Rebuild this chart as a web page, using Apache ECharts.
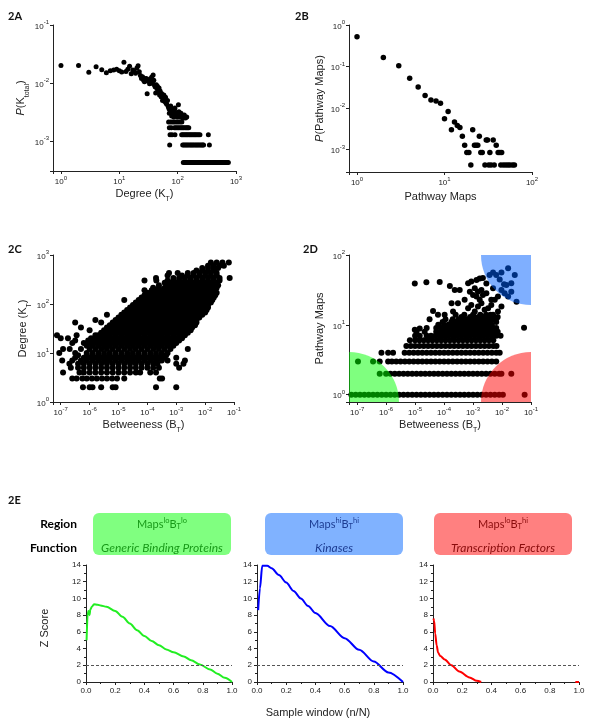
<!DOCTYPE html>
<html><head><meta charset="utf-8">
<script src="https://cdn.jsdelivr.net/npm/echarts@6/dist/echarts.min.js"></script>
<style>html,body{margin:0;padding:0;background:#fff}#c{width:600px;height:728px}</style>
</head><body><div id="c"></div>
<script>
// ---------- 2A: degree distribution P(K_total) vs degree K_T ----------
const degreePoints = [[1,0.020],[2,0.020],[3,0.0153],[4,0.019],[5,0.017],[6,0.015],[7,0.0163],[8,0.0168],[9,0.0172],[10,0.0162],[11,0.0155],[12,0.0228],[13,0.0158],[14,0.0172],[15,0.0195],[16,0.0145],[17,0.0168],[18,0.0163],[19,0.0147],[20,0.0182],[21,0.0198],[22,0.0157],[23,0.0135],[24,0.0120],[25,0.0128],[26,0.0112],[27,0.0105],[28,0.0118],[29,0.0120],[30,0.0065],[31,0.0108],[32,0.0113],[33,0.0097],[34,0.0118],[35,0.0099],[36,0.0127],[37,0.0104],[38,0.0137],[39,0.0112],[40,0.0092],[41,0.0086],[42,0.0067],[43,0.0093],[44,0.0080],[45,0.0088],[46,0.0076],[47,0.0070],[48,0.0082],[49,0.0062],[50,0.0073],[52,0.0058],[53,0.0066],[55,0.0050],[57,0.0054],[58,0.0062],[60,0.0048],[62,0.0057],[63,0.0045],[65,0.0043],[67,0.0050],[69,0.0039],[71,0.0036],[72,0.0030],[74,0.0034],[76,0.0040],[78,0.0032],[79,0.0027],[81,0.0035],[84,0.0031],[86,0.0026],[88,0.0034],[90,0.0037],[92,0.0028],[96,0.0030],[99,0.0026],[103,0.0042],[105,0.0032],[108,0.0028],[110,0.0026],[114,0.0030],[118,0.0027],[122,0.0025],[125,0.0025],[130,0.0028],[136,0.0025],[143,0.0026]];
const degreeLevelP = [0.00213, 0.0017, 0.00128, 0.00085, 0.000425];
const degreeLevelK = [
  [70,76,82,88,95,102,110,118],
  [72,78,88,93,98,104,110,116,122,128,135,142,148,155],
  [74,80,90,117,123,129,136,143,150,158,166,175,184,194,204,215,228,241,336],
  [73,122,128,134,141,148,156,164,172,181,190,200,210,221,232,244,256,268,278,350],
  [125,131,137,143,150,157,164,172,180,188,197,206,216,226,236,247,259,271,283,296,310,325,340,356,372,390,408,427,447,468,490,512,536,561,587,615,643,673,705,740]
];

// ---------- 2B: P(Pathway Maps) vs Pathway Maps ----------
const mapPoints = [[1,0.52],[2,0.166],[3,0.104],[4,0.052],[5,0.032],[6,0.020],[7,0.0157],[8,0.0148],[9,0.0131],[10,0.0055],[11,0.0083],[12,0.0030],[13,0.0046],[14,0.0038],[15,0.0034],[16,0.0021],[17,0.00127],[18,0.00085],[19,0.00085],[20,0.000425],[21,0.0030],[22,0.00127],[23,0.00127],[24,0.00127],[25,0.0021],[26,0.00085],[27,0.00085],[29,0.000425],[30,0.0017],[31,0.0017],[32,0.000425],[33,0.00085],[34,0.000425],[36,0.0017],[37,0.000425],[39,0.00127],[41,0.00085],[43,0.00085],[44,0.000425],[45,0.00085],[47,0.000425],[50,0.000425],[53,0.000425],[56,0.000425],[60,0.000425],[63,0.000425]];

// ---------- 2C: Degree K_T vs Betweenness B_T (log10 of B per degree row) ----------
const degreeRowsK = [2,3,4,5,6,7,8,9,10,12,14,16,18,20,23,26,29,33,37,42,47,53,60,67,75,85,95,107,120,135,150,170,190,215,240,270,300,340,380,430,480,540,600,700];
const degreeRowsLogB = [
  [-6.23,-6.0,-5.9,-5.6,-5.2,-5.1,-3.7,-3.0],
  [-6.6,-6.45,-6.25,-6.1,-5.92,-5.75,-5.57,-5.4,-5.22,-5.05,-4.8,-3.57,-3.49],
  [-6.92,-6.35,-6.2,-6.0,-5.8,-5.6,-5.4,-5.2,-5.0,-4.8,-4.6,-4.4,-4.25,-3.9,-3.7],
  [-6.65,-6.4,-6.2,-6.0,-5.8,-5.6,-5.4,-5.2,-5.0,-4.8,-4.6,-4.4,-4.2,-4.0,-3.8,-3.6,-2.9],
  [-6.7,-6.4,-6.2,-6.0,-5.8,-5.6,-5.4,-5.2,-5.0,-4.8,-4.6,-4.4,-4.2,-4.0,-3.8,-3.65,-3.0,-2.75],
  [-6.95,-6.6,-6.3,-6.1,-5.9,-5.7,-5.5,-5.3,-5.1,-4.9,-4.7,-4.5,-4.3,-4.1,-3.9,-3.7,-3.5,-3.3,-2.7],
  [-6.5,-6.2,-6.0,-5.8,-5.6,-5.4,-5.2,-5.0,-4.8,-4.6,-4.4,-4.2,-4.0,-3.8,-3.6,-3.45,-3.0],
  [-6.4,-6.1,-5.9,-5.7,-5.5,-5.3,-5.1,-4.9,-4.7,-4.5,-4.3,-4.1,-3.9,-3.7,-3.5,-3.35],
  [-7.05,-6.5,-6.1,-5.9,-5.7,-5.5,-5.3,-5.1,-4.9,-4.7,-4.5,-4.3,-4.1,-3.9,-3.7,-3.5,-3.3],
  [-6.92,-6.69,-6.3,-6.0,-5.8,-5.6,-5.4,-5.2,-5.0,-4.8,-4.6,-4.4,-4.2,-4.0,-3.8,-3.6,-3.4,-3.2,-2.6],
  [-6.1,-5.9,-5.7,-5.5,-5.3,-5.1,-4.9,-4.7,-4.5,-4.3,-4.1,-3.9,-3.7,-3.5,-3.3,-3.1],
  [-6.6,-6.2,-6.0,-5.8,-5.6,-5.4,-5.2,-5.0,-4.8,-4.6,-4.4,-4.2,-4.0,-3.8,-3.6,-3.4,-3.2,-3.0],
  [-6.5,-6.05,-5.9,-5.7,-5.5,-5.3,-5.1,-4.9,-4.7,-4.5,-4.3,-4.1,-3.9,-3.7,-3.5,-3.3,-3.1,-2.9],
  [-7.0,-6.75,-5.95,-5.8,-5.6,-5.4,-5.2,-5.0,-4.8,-4.6,-4.4,-4.2,-4.0,-3.8,-3.6,-3.4,-3.2,-3.0,-2.8],
  [-7.13,-6.45,-5.8,-5.7,-5.5,-5.3,-5.1,-4.9,-4.7,-4.5,-4.3,-4.1,-3.9,-3.7,-3.5,-3.3,-3.1,-2.9,-2.7],
  [-5.6,-5.4,-5.2,-5.0,-4.8,-4.6,-4.4,-4.2,-4.0,-3.8,-3.6,-3.4,-3.2,-3.0,-2.8,-2.6],
  [-6.0,-5.5,-5.3,-5.1,-4.9,-4.7,-4.5,-4.3,-4.1,-3.9,-3.7,-3.5,-3.3,-3.1,-2.9,-2.7,-2.5],
  [-6.3,-5.4,-5.2,-5.0,-4.8,-4.6,-4.4,-4.2,-4.0,-3.8,-3.6,-3.4,-3.2,-3.0,-2.8,-2.6,-2.45],
  [-5.3,-5.1,-4.9,-4.7,-4.5,-4.3,-4.1,-3.9,-3.7,-3.5,-3.3,-3.1,-2.9,-2.7,-2.5,-2.35],
  [-6.5,-5.6,-5.2,-5.0,-4.8,-4.6,-4.4,-4.2,-4.0,-3.8,-3.6,-3.4,-3.2,-3.0,-2.8,-2.6,-2.4,-2.3],
  [-5.8,-5.1,-4.9,-4.7,-4.5,-4.3,-4.1,-3.9,-3.7,-3.5,-3.3,-3.1,-2.9,-2.7,-2.5,-2.3],
  [-5.0,-4.8,-4.6,-4.4,-4.2,-4.0,-3.8,-3.6,-3.4,-3.2,-3.0,-2.8,-2.6,-2.4,-2.2],
  [-5.4,-4.9,-4.7,-4.5,-4.3,-4.1,-3.9,-3.7,-3.5,-3.3,-3.1,-2.9,-2.7,-2.5,-2.3,-2.1],
  [-4.8,-4.6,-4.4,-4.2,-4.0,-3.8,-3.6,-3.4,-3.2,-3.0,-2.8,-2.6,-2.4,-2.2,-2.0],
  [-4.7,-4.5,-4.3,-4.1,-3.9,-3.7,-3.5,-3.3,-3.1,-2.9,-2.7,-2.5,-2.3,-2.1,-1.95],
  [-4.6,-4.4,-4.2,-4.0,-3.8,-3.6,-3.4,-3.2,-3.0,-2.8,-2.6,-2.4,-2.2,-2.0,-1.9],
  [-4.5,-4.3,-4.1,-3.9,-3.7,-3.5,-3.3,-3.1,-2.9,-2.7,-2.5,-2.3,-2.1,-1.9],
  [-4.4,-4.2,-4.0,-3.8,-3.6,-3.4,-3.2,-3.0,-2.8,-2.6,-2.4,-2.2,-2.0,-1.8],
  [-4.8,-4.3,-4.1,-3.9,-3.7,-3.5,-3.3,-3.1,-2.9,-2.7,-2.5,-2.3,-2.1,-1.9,-1.75],
  [-4.2,-4.0,-3.8,-3.6,-3.4,-3.2,-3.0,-2.8,-2.6,-2.4,-2.2,-2.0,-1.8,-1.7],
  [-4.1,-3.9,-3.7,-3.5,-3.3,-3.1,-2.9,-2.7,-2.5,-2.3,-2.1,-1.9,-1.65],
  [-4.0,-3.8,-3.6,-3.4,-3.2,-3.0,-2.8,-2.6,-2.4,-2.2,-2.0,-1.8,-1.6],
  [-4.1,-3.85,-3.7,-3.5,-3.3,-3.1,-2.9,-2.7,-2.5,-2.3,-2.1,-1.9,-1.7],
  [-3.8,-3.6,-3.4,-3.2,-3.0,-2.8,-2.6,-2.4,-2.2,-2.0,-1.8,-1.6],
  [-3.6,-3.3,-3.1,-2.9,-2.7,-2.5,-2.3,-2.1,-1.9,-1.7,-1.55],
  [-3.4,-3.2,-3.0,-2.8,-2.6,-2.4,-2.2,-2.0,-1.8,-1.6],
  [-4.1,-3.69,-3.3,-3.1,-2.9,-2.7,-2.5,-2.3,-2.1,-1.9,-1.7,-1.5],
  [-3.7,-3.1,-2.9,-2.7,-2.5,-2.3,-2.1,-1.9,-1.7,-1.5,-1.15],
  [-3.3,-2.8,-2.6,-2.4,-2.2,-2.0,-1.8,-1.6],
  [-3.25,-2.95,-2.6,-2.4,-2.2,-2.0,-1.8,-1.6],
  [-2.3,-2.1,-1.9,-1.7],
  [-2.1,-1.9,-1.7,-1.55],
  [-1.9,-1.7,-1.5,-1.35],
  [-1.8,-1.6,-1.4,-1.18]
];

// ---------- 2D: Pathway Maps vs Betweenness (log10 of B per map-count row) ----------
const mapRowsCount = [1,2,3,4,5,6,7,8,9,10,11,12,13,14];
const mapRowsLogB = [
  [-7.2,-7.05,-6.9,-6.75,-6.6,-6.45,-6.3,-6.15,-6.0,-5.85,-5.7,-5.55,-5.4,-5.25,-5.1,-4.95,-4.8,-4.65,-4.5,-4.35,-4.2,-4.05,-3.9,-3.75,-3.6,-3.45,-3.3,-3.15,-3.0,-2.85,-2.7,-2.55,-2.4,-2.25,-2.1,-1.97,-1.22],
  [-6.22,-6.0,-5.85,-5.7,-5.55,-5.4,-5.25,-5.1,-4.95,-4.8,-4.65,-4.5,-4.35,-4.2,-4.05,-3.9,-3.75,-3.6,-3.45,-3.3,-3.15,-3.0,-2.85,-2.7,-2.55,-2.4,-2.25,-2.1,-2.02,-1.68],
  [-6.97,-6.45,-6.22,-5.93,-5.8,-5.65,-5.5,-5.35,-5.2,-5.05,-4.9,-4.75,-4.6,-4.45,-4.3,-4.15,-4.0,-3.85,-3.7,-3.55,-3.4,-3.25,-3.1,-2.95,-2.8,-2.65,-2.5,-2.35,-2.2],
  [-6.16,-5.93,-5.76,-5.36,-5.2,-5.05,-4.9,-4.75,-4.6,-4.45,-4.3,-4.15,-4.0,-3.85,-3.7,-3.55,-3.4,-3.25,-3.1,-2.95,-2.8,-2.65,-2.5,-2.35,-2.2,-2.08],
  [-5.3,-5.15,-5.0,-4.85,-4.7,-4.55,-4.4,-4.25,-4.1,-3.95,-3.8,-3.65,-3.5,-3.35,-3.2,-3.05,-2.9,-2.75,-2.6,-2.45,-2.3,-2.19],
  [-5.18,-5.0,-4.85,-4.7,-4.55,-4.4,-4.25,-4.1,-3.95,-3.8,-3.65,-3.5,-3.35,-3.2,-3.05,-2.9,-2.75,-2.6,-2.45,-2.3],
  [-5.0,-4.84,-4.6,-4.45,-4.3,-4.15,-4.0,-3.85,-3.7,-3.55,-3.4,-3.25,-3.1,-2.95,-2.8,-2.65,-2.5,-2.35,-2.2,-2.05],
  [-4.95,-4.67,-4.27,-4.12,-3.97,-3.82,-3.67,-3.52,-3.37,-3.22,-3.07,-2.92,-2.77,-2.62,-2.47,-2.32,-2.15],
  [-4.6,-4.27,-4.1,-3.95,-3.8,-3.65,-3.5,-3.35,-3.2,-3.05,-2.9,-2.75,-2.6,-2.45,-2.3,-2.2],
  [-4.2,-4.0,-3.85,-3.7,-3.55,-3.4,-3.25,-3.1,-2.95,-2.8,-2.65,-2.5,-2.35],
  [-4.05,-3.75,-3.6,-3.45,-3.3,-3.15,-3.0,-2.85,-2.7,-2.55,-2.4,-2.2],
  [-4.5,-3.95,-3.7,-3.5,-3.35,-3.2,-3.05,-2.9,-2.75,-2.6,-2.45,-2.3],
  [-3.4,-3.1,-2.95,-2.8,-2.65,-2.5,-2.35,-2.15],
  [-4.21,-3.98,-3.6,-3.3,-3.0,-2.75,-2.55,-2.4]
];
// scattered upper points: [logB, maps]
const mapScatter = [[-4.38,15.8],[-3.69,15.5],[-3.74,20.4],[-3.52,20.4],[-3.29,22.8],[-3.17,17.3],[-3.06,19.3],[-2.94,15.5],[-2.83,18.3],[-2.71,20.4],[-2.6,16.4],[-2.48,17.3],[-2.37,19.3],[-2.25,22.8],[-2.14,15.5],[-2.02,18.3],[-2.31,13.9],[-2.19,12.4],[-2.37,22.8],[-2.14,25.4],[-2.31,33.4],[-2.54,39],
  [-5.01,39],[-4.61,40.7],[-4.15,41],[-3.8,36],[-3.63,31.6],[-3.46,31.6],[-3.17,39.3],[-3.06,41.6],[-2.88,44],[-2.77,46],[-2.66,47],[-2.94,33.4],[-2.83,29.9],[-2.71,31.6],[-3.11,29.9],[-3.0,26.8],[-2.88,25.4],[-2.77,22.8],[-2.66,26.8],[-2.54,28.3],
  [-2.43,51.8],[-2.31,56],[-2.02,56],[-1.79,64.5],[-2.08,44.6],[-1.85,37.3],[-1.68,39.3],[-1.56,51.8],[-1.79,25.4],[-1.5,21.5],[-1.91,28.3],[-2.02,31.6],[-2.2,51.8],[-1.68,29.9],[-1.93,38],
  [-1.24,9.1],[-5.01,8.5],[-4.84,8.9]];

// ---------- 2E: Z score vs sample window ----------
const greenX = [0.004,0.012,0.018,0.024,0.03,0.04,0.055,0.08,0.1,0.14,0.2,0.25,0.3,0.35,0.4,0.45,0.5,0.55,0.6,0.67,0.72,0.78,0.85,0.9,0.95,1.0];
const greenY = [5.0,8.4,8.5,8.0,8.7,9.0,9.3,9.25,9.15,9.0,8.5,7.8,7.0,6.2,5.5,4.9,4.4,3.9,3.55,3.05,2.6,2.1,1.5,1.0,0.5,0.0];
const blueX = [0.008,0.02,0.036,0.07,0.1,0.15,0.2,0.25,0.3,0.35,0.4,0.5,0.6,0.7,0.8,0.9,1.0];
const blueY = [8.6,11.2,13.9,13.9,13.6,12.8,11.9,10.9,10.0,9.1,8.25,6.7,5.25,3.85,2.45,1.15,0.0];
const redX = [0.003,0.008,0.015,0.025,0.035,0.05,0.08,0.126,0.18,0.25,0.3,0.33,null,0.975,1.0];
const redY = [7.6,7.3,5.8,4.4,3.5,3.1,2.7,2.0,1.25,0.55,0.15,0.0,null,0.0,0.0];
const thresholdZ = 2;

// axis extents read from the frames
const aX = [0.73, 1000], aY = [3.04e-4, 0.1];
const bX = [0.81, 100], bY = [2.88e-4, 1];
const cX = [5.4e-8, 0.1], cY = [1, 1000];
const dX = [5.25e-8, 0.1], dY = [0.787, 100];

const FONT = 'Liberation Sans', HF = 'Lato', AX = '#222';
function powLabel(v){ const l = Math.log10(v), e = Math.round(l); return Math.abs(l - e) > 1e-6 ? '' : '{b|10}{s|' + e + '}'; }
const powRich = { b:{fontFamily:FONT,fontSize:8,color:AX,lineHeight:11,verticalAlign:'bottom'}, s:{fontFamily:FONT,fontSize:6,color:AX,lineHeight:11,verticalAlign:'top'} };
const nameRich = { n:{fontFamily:FONT,fontSize:11,color:AX,lineHeight:15,verticalAlign:'top'}, i:{fontFamily:FONT,fontSize:11,fontStyle:'italic',color:AX,lineHeight:15,verticalAlign:'top'}, t:{fontFamily:FONT,fontSize:7,color:AX,lineHeight:15,verticalAlign:'bottom'} };
function logAxis(gi, ext, name, gap){
  return { type:'log', logBase:10, gridIndex:gi, min:ext[0], max:ext[1], name:name, nameLocation:'middle', nameGap:gap,
    nameTextStyle:{rich:nameRich}, axisLine:{show:true,onZero:false,lineStyle:{color:AX,width:1}},
    axisTick:{show:true,length:3,lineStyle:{color:AX}}, axisLabel:{formatter:powLabel,rich:powRich,margin:4},
    splitLine:{show:false}, minorTick:{show:false} };
}
function zX(gi){ return { type:'value', gridIndex:gi, min:0, max:1, interval:0.2, axisLine:{show:true,onZero:false,lineStyle:{color:AX}},
  axisTick:{show:true,length:3,lineStyle:{color:AX}}, minorTick:{show:true,splitNumber:2,length:2,lineStyle:{color:AX}},
  axisLabel:{fontFamily:FONT,fontSize:8,color:AX,margin:5,formatter:v=>v.toFixed(1)}, splitLine:{show:false} }; }
function zY(gi){ return { type:'value', gridIndex:gi, min:0, max:14, interval:2, axisLine:{show:true,lineStyle:{color:AX}},
  axisTick:{show:true,length:3,lineStyle:{color:AX}}, minorTick:{show:true,splitNumber:2,length:2,lineStyle:{color:AX}},
  axisLabel:{fontFamily:FONT,fontSize:8,color:AX,margin:5}, splitLine:{show:false} }; }

const dataA = degreePoints.concat(...degreeLevelK.map((ks,i)=>ks.map(k=>[k, degreeLevelP[i]])));
const dataC = [].concat(...degreeRowsK.map((k,i)=>degreeRowsLogB[i].map(b=>[Math.pow(10,b), k])));
const dataD = [].concat(...mapRowsCount.map((m,i)=>mapRowsLogB[i].map(b=>[Math.pow(10,b), m])))
  .concat(mapScatter.map(p=>[Math.pow(10,p[0]), p[1]]));
const zip = (xs, ys) => xs.map((x,i)=> x === null ? [null,null] : [x, ys[i]]);

const overlayCorners = [[dX[0], dY[0]], [dX[1], dY[1]], [dX[1], dY[0]]];
const overlayFill = ['rgba(0,255,0,0.5)', 'rgba(0,96,255,0.5)', 'rgba(255,0,0,0.5)'];
const overlayAngles = [[-Math.PI/2, 0], [Math.PI/2, Math.PI], [Math.PI, Math.PI*1.5]];

function zSeries(gi, xs, ys, color){
  return { type:'line', xAxisIndex:gi, yAxisIndex:gi, data:zip(xs, ys), showSymbol:false, connectNulls:false,
    smooth:0.3, smoothMonotone:'x', lineStyle:{color:color,width:2}, itemStyle:{color:color}, silent:true,
    markLine:{silent:true, symbol:'none', label:{show:false}, lineStyle:{type:[3,2],color:'#555',width:1}, data:[{yAxis:thresholdZ}]} };
}
const dot = {color:'#000', opacity:1, borderWidth:0};

const headRich = { n:{fontFamily:HF,fontSize:11,lineHeight:14,verticalAlign:'middle'}, p:{fontFamily:HF,fontSize:7.5,lineHeight:14,verticalAlign:'top'}, b:{fontFamily:HF,fontSize:7.5,lineHeight:14,verticalAlign:'bottom'} };
function richColor(c){ const r = {}; for (const k in headRich) r[k] = Object.assign({fill:c, color:c}, headRich[k]); return r; }
function box(x, w, fill, tc, sup1, sup2, func){
  return [
    {type:'rect', shape:{x:x, y:513, width:w, height:42, r:6}, style:{fill:fill}},
    {type:'text', x:x + w/2, y:524, style:{text:'{n|Maps}{p|' + sup1 + '}{n|B}{b|T}{p|' + sup2 + '}', rich:richColor(tc), align:'center', verticalAlign:'middle', fill:tc}},
    {type:'text', x:x + w/2, y:548, style:{text:func, font:'italic 12px ' + HF, fill:tc, align:'center', verticalAlign:'middle'}}
  ];
}
const labelStyle = (t, x, y) => ({type:'text', x:x, y:y, style:{text:t, font:'bold 11px ' + HF, fill:'#111', align:'left', verticalAlign:'middle'}});

const option = {
  animation:false,
  backgroundColor:'#fff',
  grid:[
    {left:53, top:25, width:183, height:146},
    {left:349, top:25, width:183, height:147},
    {left:53, top:255, width:181, height:147},
    {left:349, top:255, width:182, height:147},
    {left:86, top:565, width:146, height:117},
    {left:257, top:565, width:146, height:117},
    {left:433, top:565, width:146, height:117}
  ],
  xAxis:[
    logAxis(0, aX, '{n|Degree (K}{t|T}{n|)}', 17),
    logAxis(1, bX, '{n|Pathway Maps}', 19),
    logAxis(2, cX, '{n|Betweeness (B}{t|T}{n|)}', 17),
    logAxis(3, dX, '{n|Betweeness (B}{t|T}{n|)}', 17),
    zX(4), zX(5), zX(6)
  ],
  yAxis:[
    logAxis(0, aY, '{i|P}{n|(K}{t|total}{n|)}', 20),
    logAxis(1, bY, '{i|P}{n|(Pathway Maps)}', 20),
    logAxis(2, cY, '{n|Degree (K}{t|T}{n|)}', 20),
    logAxis(3, dY, '{n|Pathway Maps}', 20),
    zY(4), zY(5), zY(6)
  ],
  series:[
    {type:'scatter', xAxisIndex:0, yAxisIndex:0, data:dataA, symbolSize:5, itemStyle:dot, silent:true},
    {type:'scatter', xAxisIndex:1, yAxisIndex:1, data:mapPoints, symbolSize:5.5, itemStyle:dot, silent:true},
    {type:'scatter', xAxisIndex:2, yAxisIndex:2, data:dataC, symbolSize:6, itemStyle:dot, silent:true, large:false},
    {type:'scatter', xAxisIndex:3, yAxisIndex:3, data:dataD, symbolSize:6, itemStyle:dot, silent:true, large:false},
    {type:'custom', xAxisIndex:3, yAxisIndex:3, data:overlayCorners, z:5, silent:true,
      renderItem:function(params, api){
        const c = api.coord([api.value(0), api.value(1)]);
        const i = params.dataIndex;
        return {type:'sector', shape:{cx:c[0], cy:c[1], r0:0, r:50, startAngle:overlayAngles[i][0], endAngle:overlayAngles[i][1], clockwise:true},
          style:{fill:overlayFill[i]}};
      }},
    zSeries(4, greenX, greenY, '#22ee22'),
    zSeries(5, blueX, blueY, '#0000ff'),
    zSeries(6, redX, redY, '#ff0000')
  ],
  graphic:[
    labelStyle('2A', 8, 16), labelStyle('2B', 295, 16), labelStyle('2C', 8, 249), labelStyle('2D', 303, 249), labelStyle('2E', 8, 500),
    {type:'text', x:77, y:524, style:{text:'Region', font:'bold 12px ' + HF, fill:'#000', align:'right', verticalAlign:'middle'}},
    {type:'text', x:77, y:548, style:{text:'Function', font:'bold 12px ' + HF, fill:'#000', align:'right', verticalAlign:'middle'}},
    ...box(93, 138, '#80ff80', '#189a18', 'lo', 'lo', 'Generic Binding Proteins'),
    ...box(265, 138, '#80b2ff', '#1c3c92', 'hi', 'hi', 'Kinases'),
    ...box(434, 138, '#ff8080', '#8a0c0c', 'lo', 'hi', 'Transcription Factors'),
    {type:'text', x:45, y:628, rotation:Math.PI/2, style:{text:'Z Score', font:'11px ' + FONT, fill:AX, align:'center', verticalAlign:'middle'}},
    {type:'text', x:318, y:713, style:{text:'Sample window (n/N)', font:'11px ' + FONT, fill:AX, align:'center', verticalAlign:'middle'}}
  ]
};
const chart = echarts.init(document.getElementById('c'), null, {renderer:'canvas'});
chart.setOption(option);
</script></body></html>
